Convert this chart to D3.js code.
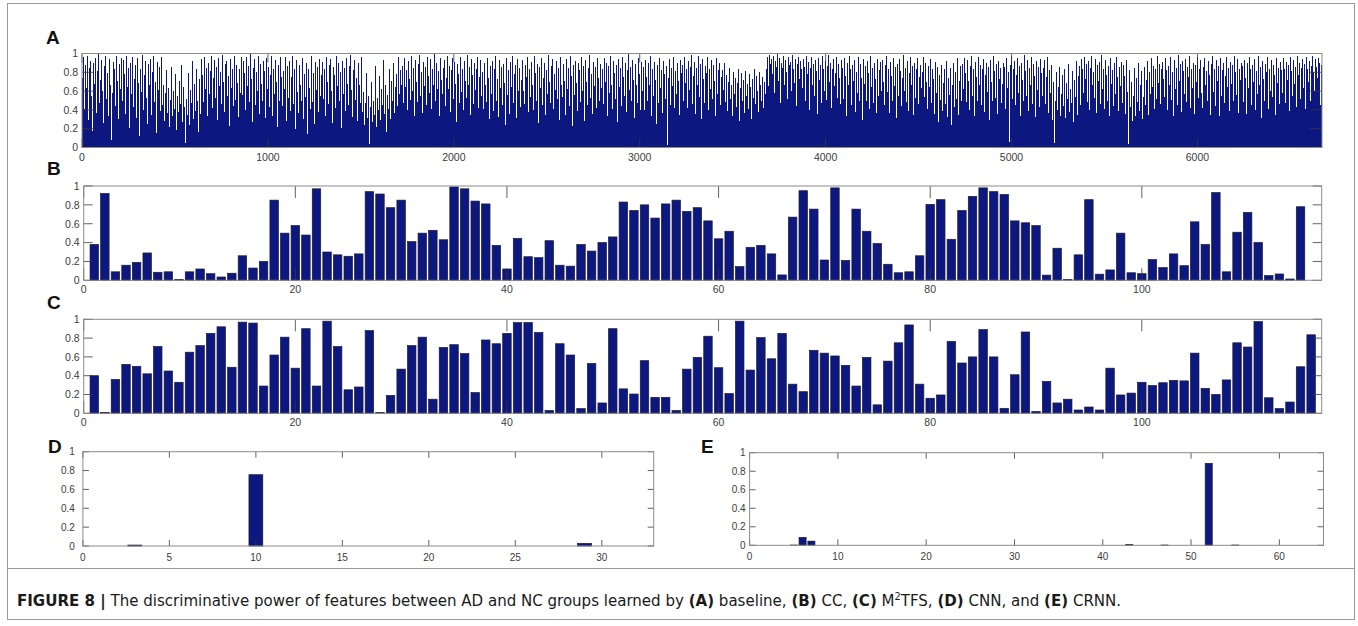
<!DOCTYPE html>
<html>
<head>
<meta charset="utf-8">
<script src="https://cdn.jsdelivr.net/npm/d3@7"></script>
<style>
  html, body { margin: 0; padding: 0; background: #fff; }
  svg { display: block; }
</style>
</head>
<body>
<svg id="fig" width="1358" height="626"></svg>
<script>
// ---- Feature weights (discriminative power, 0..1) ----

// (A) baseline: 6670 features, one value per ~5.4 features (percent)
const baselineFeatureCount = 6670;
const baselineWeights = [
74,96,41,88,63,97,29,85,92,55,18,90,68,95,37,81,99,47,72,93,60,26,87,97,52,79,34,94,66,8,58,91,83,44,97,71,30,89,62,95,
50,93,78,36,97,64,85,21,90,57,96,43,73,88,31,95,69,12,84,59,98,40,77,92,53,25,89,66,94,35,80,97,48,70,15,91,61,86,39,96,
45,67,28,58,82,37,63,22,51,86,33,60,41,78,19,55,38,71,46,88,27,64,43,5,52,35,79,24,61,47,92,30,68,39,84,49,17,73,36,94,
77,48,96,62,85,33,90,57,81,97,42,74,93,53,86,29,95,65,80,46,98,70,38,89,92,55,76,23,94,63,84,44,97,51,88,69,32,83,58,96,
56,92,79,40,96,65,87,48,99,73,27,85,94,45,80,60,97,36,89,68,50,92,81,31,95,62,86,43,77,97,34,84,57,93,70,22,88,49,96,75,
44,81,62,96,28,87,53,92,39,75,97,46,83,20,93,59,37,88,67,49,95,30,78,54,90,14,84,63,41,97,48,79,25,91,61,86,38,94,55,77,
91,52,84,33,96,70,46,88,94,60,26,86,77,42,97,65,90,50,80,21,92,57,85,39,95,68,45,87,98,61,32,82,93,51,74,28,90,66,47,96,
38,59,24,47,79,31,55,4,43,70,27,49,35,87,22,53,40,76,29,62,45,93,36,66,16,56,41,83,30,71,50,90,37,64,78,44,96,57,82,67,
87,47,95,64,82,40,92,73,51,97,60,85,33,93,70,48,89,98,55,80,37,91,65,86,45,96,76,58,94,41,84,67,99,49,90,62,81,34,95,72,
57,85,93,44,74,97,62,87,38,82,95,52,91,68,27,89,78,47,96,59,84,40,92,71,53,98,66,86,35,94,77,46,90,61,83,96,42,75,93,55,
80,41,90,66,48,95,74,30,87,57,92,39,83,97,50,73,32,93,63,86,45,89,69,24,95,56,82,36,91,64,97,47,78,88,31,94,60,85,43,72,
93,60,46,88,75,96,38,83,54,91,67,40,97,79,49,89,26,86,63,95,45,74,90,35,82,57,98,70,47,87,94,41,78,61,92,52,85,29,96,66,
54,89,71,35,94,62,85,44,97,76,23,88,56,92,69,39,90,82,48,96,60,87,28,93,70,45,85,98,53,78,36,91,65,86,42,95,74,50,89,63,
83,46,95,70,90,34,87,58,97,67,41,92,79,52,88,27,94,64,85,44,96,75,55,90,38,82,99,61,86,49,93,72,31,89,66,47,95,78,40,91,
60,86,40,93,75,50,90,67,97,33,84,55,91,72,25,88,47,95,63,82,37,92,78,52,87,3,74,94,45,85,65,96,42,81,57,90,71,35,93,79,
88,50,96,69,83,42,92,61,86,98,46,76,91,36,85,66,97,54,89,30,94,73,47,87,79,96,40,84,62,93,52,88,71,33,95,57,82,90,45,75,
82,61,90,48,77,39,70,85,52,66,33,80,57,74,43,69,84,28,63,79,49,72,37,81,55,68,41,78,64,30,73,53,83,46,76,60,38,80,67,50,
75,42,70,57,84,96,65,98,89,94,78,97,58,92,86,99,71,95,47,90,85,97,66,93,80,52,96,88,91,60,98,83,69,94,44,89,96,73,92,84,
63,94,86,49,97,78,91,40,85,96,67,89,55,93,81,36,95,72,88,47,97,83,60,92,51,87,98,70,90,42,84,94,65,79,96,53,89,74,46,93,
85,52,95,76,34,90,66,97,83,45,88,71,93,38,80,58,96,49,89,74,29,94,68,87,50,92,79,41,97,64,85,47,90,73,37,94,55,82,91,60,
93,70,45,88,97,59,84,37,91,76,50,95,65,86,31,89,55,94,81,44,74,98,60,85,48,92,39,79,96,67,87,35,90,53,83,95,46,75,88,63,
80,96,54,90,70,41,87,64,94,47,84,73,36,91,58,86,27,77,51,88,39,69,83,46,92,32,74,56,85,24,67,90,43,80,52,95,35,71,87,49,
89,62,95,79,48,93,71,40,87,97,55,84,33,91,75,50,96,66,88,45,83,94,38,77,90,59,86,29,93,70,49,97,81,53,89,36,92,73,85,47,
68,90,86,41,95,63,80,6,88,97,52,84,92,45,77,95,58,87,34,90,72,49,98,81,55,93,39,85,67,96,46,89,76,32,92,61,86,43,94,79,
55,85,93,46,75,96,37,82,58,88,29,70,5,49,80,40,64,86,33,57,77,44,84,31,69,52,89,38,62,47,81,27,72,54,92,35,76,87,45,94,
83,58,96,73,89,48,92,40,85,97,66,80,53,94,37,88,71,91,46,98,62,84,41,93,77,50,87,34,95,68,82,44,90,57,96,75,39,86,65,91,
47,88,76,36,93,59,4,82,43,70,28,55,85,33,74,48,90,39,66,81,30,54,86,45,72,92,35,80,57,95,64,87,41,83,52,97,69,89,46,84,
91,73,54,95,82,40,87,66,96,51,80,34,93,62,85,45,98,71,89,38,92,81,57,94,48,86,75,97,42,83,63,90,36,88,70,96,53,84,93,58,
42,86,95,67,81,50,92,77,35,89,97,59,84,44,93,71,87,33,95,55,82,90,47,76,96,64,85,39,91,68,88,49,97,80,56,94,37,83,72,90,
87,48,93,74,36,90,63,96,83,45,88,70,94,40,81,57,97,66,86,31,92,73,50,89,80,96,41,84,60,93,54,88,77,35,95,69,85,46,91,82,
58,95,84,47,91,72,88,39,96,81,55,93,68,86,43,97,77,90,52,85,94,63,89,41,96,83,70,92,49,87,97,80,60,94,86,74,95,90,45,88
];

// (B) CC: 116 features
const ccWeights = [
0.38,0.92,0.09,0.16,0.19,0.29,0.085,0.09,0.01,0.09,
0.12,0.07,0.035,0.075,0.26,0.13,0.20,0.85,0.50,0.58,
0.48,0.97,0.30,0.27,0.255,0.28,0.94,0.915,0.77,0.85,
0.41,0.50,0.53,0.43,0.99,0.97,0.84,0.81,0.37,0.12,
0.445,0.25,0.24,0.42,0.16,0.15,0.38,0.31,0.40,0.46,
0.83,0.74,0.80,0.66,0.81,0.85,0.73,0.77,0.63,0.44,
0.52,0.145,0.35,0.37,0.28,0.057,0.67,0.95,0.755,0.215,
0.98,0.21,0.755,0.52,0.39,0.17,0.08,0.09,0.26,0.805,
0.855,0.435,0.74,0.89,0.98,0.94,0.91,0.63,0.61,0.58,
0.055,0.34,0.01,0.27,0.855,0.065,0.11,0.50,0.08,0.07,
0.22,0.135,0.28,0.155,0.62,0.38,0.93,0.09,0.51,0.72,
0.40,0.05,0.067,0.014,0.78,0
];

// (C) M2TFS: 116 features
const m2tfsWeights = [
0.40,0.01,0.36,0.52,0.50,0.42,0.71,0.45,0.33,0.65,
0.72,0.85,0.92,0.49,0.97,0.96,0.29,0.62,0.81,0.48,
0.90,0.29,0.98,0.71,0.25,0.28,0.88,0.01,0.19,0.47,
0.72,0.81,0.15,0.70,0.73,0.635,0.22,0.78,0.74,0.85,
0.965,0.965,0.86,0.03,0.74,0.62,0.05,0.53,0.11,0.90,
0.26,0.205,0.56,0.17,0.17,0.03,0.47,0.595,0.82,0.485,
0.21,0.98,0.46,0.805,0.58,0.85,0.31,0.23,0.67,0.64,
0.61,0.51,0.29,0.595,0.09,0.555,0.75,0.94,0.31,0.16,
0.195,0.765,0.535,0.60,0.89,0.60,0.053,0.41,0.865,0.02,
0.34,0.11,0.15,0.035,0.067,0.035,0.48,0.195,0.215,0.33,
0.295,0.325,0.35,0.345,0.64,0.265,0.20,0.355,0.75,0.705,
0.975,0.165,0.05,0.12,0.495,0.835
];

// (D) CNN: 32 features
const cnnWeights = [
0,0,0.01,0,0,0,0,0,0,0.756,
0,0,0,0,0,0,0,0,0,0,
0,0,0,0,0,0,0,0,0.028,0,
0,0
];

// (E) CRNN: 64 features
const crnnWeights = [
0,0,0,0,0.003,0.085,0.045,0,0,0,
0,0,0,0,0,0,0,0,0,0,
0,0,0,0,0,0,0,0,0,0,
0,0,0,0,0,0,0,0,0,0,
0,0,0.008,0,0,0,0.003,0,0,0,
0,0.885,0,0,0.003,0,0,0,0,0,
0,0,0,0
];

// ---- Tick values ----
const yTickValues = [0, 0.2, 0.4, 0.6, 0.8, 1];
const ticksA = [0, 1000, 2000, 3000, 4000, 5000, 6000];
const ticksBC = [0, 20, 40, 60, 80, 100];
const ticksD = [0, 5, 10, 15, 20, 25, 30];
const ticksE = [0, 10, 20, 30, 40, 50, 60];

// ---- Caption ----
const captionParts = [
  { text: "FIGURE 8 |", bold: true },
  { text: " The discriminative power of features between AD and NC groups learned by " },
  { text: "(A)", bold: true }, { text: " baseline, " },
  { text: "(B)", bold: true }, { text: " CC, " },
  { text: "(C)", bold: true }, { text: " M" }, { text: "2", sup: true }, { text: "TFS, " },
  { text: "(D)", bold: true }, { text: " CNN, and " },
  { text: "(E)", bold: true }, { text: " CRNN." }
];

// ---- Drawing ----
const BAR = "#0d1780";
const EDGE = "#1c1c30";
const BOX = "#8c8c8c";
const TICK = "#3a3a3a";
const LABEL = "#3c3c3c";
const svg = d3.select("#fig");

// figure frame and caption divider
svg.append("rect").attr("x", 7.5).attr("y", 3.5).attr("width", 1347).attr("height", 616)
  .attr("fill", "none").attr("stroke", "#9a9a9a").attr("stroke-width", 1);
svg.append("line").attr("x1", 7.5).attr("x2", 1354.5).attr("y1", 568.5).attr("y2", 568.5)
  .attr("stroke", "#9a9a9a").attr("stroke-width", 1);

function drawAxes(g, cfg, x, y) {
  const { left, right, top, bottom, xticks, tickLen, yGap, xLabelDy } = cfg;
  const ticks = g.append("g").attr("stroke", TICK).attr("stroke-width", 0.8);
  xticks.forEach(t => {
    const px = x(t);
    ticks.append("line").attr("x1", px).attr("x2", px).attr("y1", bottom).attr("y2", bottom - tickLen);
    ticks.append("line").attr("x1", px).attr("x2", px).attr("y1", top).attr("y2", top + tickLen);
  });
  yTickValues.forEach(t => {
    const py = y(t);
    ticks.append("line").attr("x1", left).attr("x2", left + cfg.yTickLen).attr("y1", py).attr("y2", py);
    ticks.append("line").attr("x1", right).attr("x2", right - cfg.yTickLen).attr("y1", py).attr("y2", py);
  });
  g.append("rect").attr("x", left).attr("y", top).attr("width", right - left).attr("height", bottom - top)
    .attr("fill", "none").attr("stroke", BOX).attr("stroke-width", 1);

  const font = "'Liberation Sans', Arial, sans-serif";
  g.append("g").selectAll("text").data(xticks).join("text")
    .attr("x", d => x(d)).attr("y", bottom + xLabelDy)
    .attr("text-anchor", "middle").attr("font-family", font).attr("font-size", cfg.fontSize)
    .attr("fill", LABEL).text(d => d);
  g.append("g").selectAll("text").data(yTickValues).join("text")
    .attr("x", left - yGap).attr("y", d => y(d)).attr("dy", "0.36em")
    .attr("text-anchor", "end").attr("font-family", font).attr("font-size", cfg.fontSize)
    .attr("fill", LABEL).text(d => d3.format("~g")(d));
  g.append("text").attr("x", cfg.letterX).attr("y", cfg.letterY)
    .attr("font-family", "'Liberation Sans', Arial, sans-serif").attr("font-weight", "bold")
    .attr("font-size", 19).attr("fill", "#111").text(cfg.letter);
}

function barPanel(cfg, values) {
  const g = svg.append("g");
  const x = d3.scaleLinear().domain(cfg.domain).range([cfg.left, cfg.right]);
  const y = d3.scaleLinear().domain([0, 1]).range([cfg.bottom, cfg.top]);
  const w = x(cfg.barWidth) - x(0);
  g.append("g").selectAll("rect").data(values.map((v, i) => ({ i: i + 1, v })).filter(d => d.v > 0))
    .join("rect")
    .attr("x", d => x(d.i) - w / 2).attr("width", w)
    .attr("y", d => y(d.v)).attr("height", d => y(0) - y(d.v))
    .attr("fill", BAR).attr("stroke", EDGE).attr("stroke-width", 0.7);
  drawAxes(g, cfg, x, y);
}

// (A) dense baseline panel
(function () {
  const cfg = { left: 82, right: 1322, top: 53.5, bottom: 147.5, domain: [0, baselineFeatureCount],
    xticks: ticksA, tickLen: 9, yTickLen: 12, yGap: 4, xLabelDy: 13, fontSize: 10.5,
    letter: "A", letterX: 46, letterY: 44 };
  const g = svg.append("g");
  const x = d3.scaleLinear().domain(cfg.domain).range([cfg.left, cfg.right]);
  const y = d3.scaleLinear().domain([0, 1]).range([cfg.bottom, cfg.top]);
  const step = baselineFeatureCount / baselineWeights.length;
  const w = x(step) - x(0);
  g.append("g").attr("shape-rendering", "crispEdges")
    .selectAll("rect").data(baselineWeights).join("rect")
    .attr("x", (d, i) => x(i * step)).attr("width", w)
    .attr("y", d => y(d / 100)).attr("height", d => y(0) - y(d / 100))
    .attr("fill", BAR);
  drawAxes(g, cfg, x, y);
})();

barPanel({ left: 83.7, right: 1321.7, top: 186, bottom: 280.3, domain: [0, 117],
  xticks: ticksBC, tickLen: 12, yTickLen: 9, yGap: 4, xLabelDy: 12.5, fontSize: 10.5, barWidth: 0.8,
  letter: "B", letterX: 47, letterY: 175 }, ccWeights);

barPanel({ left: 83.7, right: 1321.7, top: 319.3, bottom: 413.3, domain: [0, 117],
  xticks: ticksBC, tickLen: 12, yTickLen: 9, yGap: 4, xLabelDy: 12.5, fontSize: 10.5, barWidth: 0.8,
  letter: "C", letterX: 47, letterY: 309 }, m2tfsWeights);

barPanel({ left: 82.9, right: 653.7, top: 451.7, bottom: 546, domain: [0, 33],
  xticks: ticksD, tickLen: 6, yTickLen: 6, yGap: 8, xLabelDy: 15, fontSize: 10, barWidth: 0.8,
  letter: "D", letterX: 48, letterY: 453 }, cnnWeights);

barPanel({ left: 749.6, right: 1323.5, top: 452.7, bottom: 545.3, domain: [0, 65],
  xticks: ticksE, tickLen: 6, yTickLen: 6, yGap: 4, xLabelDy: 15, fontSize: 10, barWidth: 0.8,
  letter: "E", letterX: 701, letterY: 453 }, crnnWeights);

// caption, fitted to its line
(function () {
  const cap = svg.append("text").attr("x", 17).attr("y", 606)
    .attr("font-family", "'Liberation Sans Narrow', 'Arial Narrow', 'DejaVu Sans Condensed', sans-serif")
    .attr("font-size", 15).attr("fill", "#1a1a1a");
  captionParts.forEach(p => {
    const t = cap.append("tspan").text(p.text);
    if (p.bold) t.attr("font-weight", "bold");
    if (p.sup) t.attr("baseline-shift", "super").attr("font-size", "0.65em");
  });
  const wNow = cap.node().getComputedTextLength();
  cap.attr("font-size", 15 * 1105 / wNow);
})();
</script>
</body>
</html>
